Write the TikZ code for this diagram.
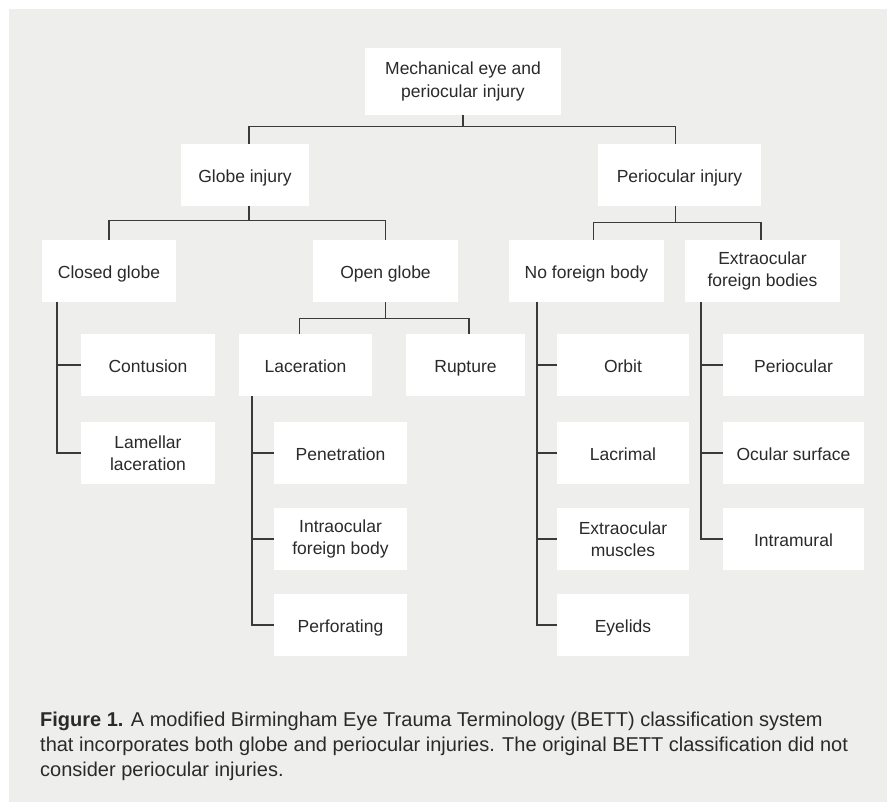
\documentclass[tikz,border=0pt]{standalone}
\usepackage{fontspec}
\setmainfont{Liberation Sans}
\usetikzlibrary{positioning,calc}
\definecolor{panel}{HTML}{EEEEEC}
\definecolor{ink}{HTML}{2A2A2A}
\definecolor{wirecol}{HTML}{3A3A3A}
\tikzset{
  box/.style={fill=white, inner sep=0pt, align=center, text=ink, minimum height=62pt,
    font=\fontsize{17.5}{22.5}\selectfont},
  oneline/.style={box, text height=14.2pt, text depth=0pt},
  wire/.style={draw=wirecol, line width=1.3pt},
}

\begin{document}
\begin{tikzpicture}[x=1pt,y=-1pt]
        \useasboundingbox (0,0) rectangle (887,802);
        \fill[white] (0,0) rectangle (887,802);
        \fill[panel] (9,9) rectangle (887,802);
        %%Top levels
        \node[box, minimum width=196pt, minimum height=67pt] (root) at (463,81.5) {Mechanical eye and\\periocular injury};
        \node[oneline, minimum width=128pt] (globe) at (245,175) {Globe injury};
        \node[oneline, minimum width=163pt] (peri) at (679.5,175) {Periocular injury};
        \node[oneline, minimum width=134pt] (closed) at (109,271) {Closed globe};
        \node[oneline, minimum width=145pt] (open) at (385.5,271) {Open globe};
        \node[oneline, minimum width=155pt] (nofb) at (586.5,271) {No foreign body};
        \node[box, minimum width=155pt] (extra) at (762.5,271) {Extraocular\\foreign bodies};
        %%Closed globe
        \node[oneline, minimum width=134pt] (contusion) at (148,365) {Contusion};
        \node[box, minimum width=134pt] (lamellar) at (148,453) {Lamellar\\laceration};
        %%Open globe
        \node[oneline, minimum width=133pt] (laceration) at (305.5,365) {Laceration};
        \node[oneline, minimum width=119pt] (rupture) at (465.5,365) {Rupture};
        \node[oneline, minimum width=133pt] (penetration) at (340.5,453) {Penetration};
        \node[box, minimum width=133pt] (intraocular) at (340.5,539) {Intraocular\\foreign body};
        \node[oneline, minimum width=133pt] (perforating) at (340.5,625) {Perforating};
        %%No foreign body
        \node[oneline, minimum width=132pt] (orbit) at (623,365) {Orbit};
        \node[oneline, minimum width=132pt] (lacrimal) at (623,453) {Lacrimal};
        \node[box, minimum width=132pt] (muscles) at (623,539) {Extraocular\\muscles};
        \node[oneline, minimum width=132pt] (eyelids) at (623,625) {Eyelids};
        %%Extraocular foreign bodies
        \node[oneline, minimum width=141pt] (periocular) at (793.5,365) {Periocular};
        \node[oneline, minimum width=141pt] (ocular) at (793.5,453) {Ocular surface};
        \node[oneline, minimum width=141pt] (intramural) at (793.5,539) {Intramural};
        %%Buses
        \coordinate (b0) at ($(root.south)+(0,11)$);
        \coordinate (b1) at ($([xshift=4pt]globe.south)+(0,14)$);
        \coordinate (b2) at ($([xshift=-4pt]peri.south)+(0,16)$);
        \coordinate (b3) at ($(open.south)+(0,16)$);
        \draw[wire] (root.south) -- (b0);
        \draw[wire] ([xshift=4pt]globe.north) |- (b0) -| ([xshift=-4pt]peri.north);
        \draw[wire] ([xshift=4pt]globe.south) -- (b1);
        \draw[wire] (closed.north) |- (b1) -| (open.north);
        \draw[wire] ([xshift=-4pt]peri.south) -- (b2);
        \draw[wire] ([xshift=7pt]nofb.north) |- (b2) -| ([xshift=-1.5pt]extra.north);
        \draw[wire] (open.south) -- (b3);
        \draw[wire] ([xshift=-6pt]laceration.north) |- (b3) -| ([xshift=3.5pt]rupture.north);
        %%Trunks
        \coordinate (t1) at ($(closed.south)+(-52,0)$);
        \coordinate (t2) at ($(laceration.south)+(-53.5,0)$);
        \coordinate (t3) at ($(nofb.south)+(-49.5,0)$);
        \coordinate (t4) at ($(extra.south)+(-61.5,0)$);
        \draw[wire] (t1) |- (lamellar.west);
        \draw[wire] (contusion.west) -- (contusion.west -| t1);
        \draw[wire] (t2) |- (perforating.west);
        \draw[wire] (penetration.west) -- (penetration.west -| t2);
        \draw[wire] (intraocular.west) -- (intraocular.west -| t2);
        \draw[wire] (t3) |- (eyelids.west);
        \draw[wire] (orbit.west) -- (orbit.west -| t3);
        \draw[wire] (lacrimal.west) -- (lacrimal.west -| t3);
        \draw[wire] (muscles.west) -- (muscles.west -| t3);
        \draw[wire] (t4) |- (intramural.west);
        \draw[wire] (periocular.west) -- (periocular.west -| t4);
        \draw[wire] (ocular.west) -- (ocular.west -| t4);
        %%Caption
        \node[anchor=north west, inner sep=0pt, align=left, text=ink, font=\fontsize{20}{25}\selectfont] (caption) at (40,712)
        {\textbf{Figure 1.} A modified Birmingham Eye Trauma Terminology (BETT) classification system\\
        that incorporates both globe and periocular injuries. The original BETT classification did not\\
        consider periocular injuries.};
\end{tikzpicture}
\end{document}
